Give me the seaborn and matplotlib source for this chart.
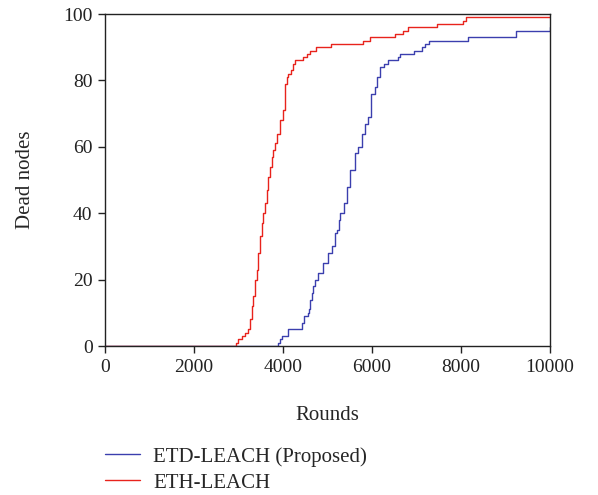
import matplotlib
matplotlib.use("Agg")
import matplotlib.pyplot as plt
import seaborn as sns
import pandas as pd

# Step points: round at which the dead-node count changes, and the new count
etd_rounds = [0, 3880, 3933, 3970, 4120, 4419, 4479, 4569, 4590, 4607, 4650, 4682, 4720,
              4795, 4907, 5019, 5094, 5169, 5206, 5258, 5281, 5371, 5431, 5506, 5618,
              5693, 5768, 5843, 5918, 5970, 6067, 6120, 6180, 6277, 6367, 6592, 6629,
              6951, 7116, 7191, 7281, 8150, 9229, 9990, 10000]
etd_dead = [0, 1, 2, 3, 5, 7, 9, 10, 11, 14, 16, 18, 20,
            22, 25, 28, 30, 34, 35, 38, 40, 43, 48, 53, 58,
            60, 64, 67, 69, 76, 78, 81, 84, 85, 86, 87, 88,
            89, 90, 91, 92, 93, 95, 96, 96]

eth_rounds = [0, 2945, 2990, 3070, 3145, 3220, 3258, 3296, 3333, 3371, 3408, 3446, 3483,
              3521, 3558, 3596, 3635, 3670, 3708, 3745, 3783, 3820, 3872, 3933, 4008,
              4045, 4083, 4120, 4172, 4232, 4270, 4457, 4532, 4607, 4742, 5075, 5805,
              5955, 6517, 6689, 6816, 7468, 8052, 8112, 10000]
eth_dead = [0, 1, 2, 3, 4, 5, 8, 12, 15, 20, 23, 28, 33,
            37, 40, 43, 47, 51, 54, 57, 59, 61, 64, 68, 71,
            79, 81, 82, 83, 85, 86, 87, 88, 89, 90, 91, 92,
            93, 94, 95, 96, 97, 98, 99, 99]

labels = ["ETD-LEACH (Proposed)", "ETH-LEACH"]
colors = ["#3b3fae", "#e8231c"]

x_ticks = [0, 2000, 4000, 6000, 8000, 10000]
y_ticks = [0, 20, 40, 60, 80, 100]

sns.set_style("ticks")
plt.rcParams["font.family"] = ["Liberation Serif", "DejaVu Serif"]
plt.rcParams["axes.edgecolor"] = "#222222"
plt.rcParams["axes.linewidth"] = 1.0

fig = plt.figure(figsize=(5.98, 4.95), dpi=100)
ax = fig.add_axes([0.1756, 0.301, 0.7441, 0.6707])

df_etd = pd.DataFrame({"Rounds": etd_rounds, "Dead nodes": etd_dead})
df_eth = pd.DataFrame({"Rounds": eth_rounds, "Dead nodes": eth_dead})

sns.lineplot(data=df_etd, x="Rounds", y="Dead nodes", ax=ax, color=colors[0],
             linewidth=1.0, drawstyle="steps-post", label=labels[0], legend=False)
sns.lineplot(data=df_eth, x="Rounds", y="Dead nodes", ax=ax, color=colors[1],
             linewidth=1.0, drawstyle="steps-post", label=labels[1], legend=False)

ax.set_xlim(0, 10000)
ax.set_ylim(0, 100)
ax.set_xticks(x_ticks)
ax.set_yticks(y_ticks)
ax.tick_params(axis="both", direction="out", length=5, width=1, labelsize=14,
               colors="#222222", pad=4)
for s in ax.spines.values():
    s.set_visible(True)
ax.set_xlabel("Rounds", fontsize=15, labelpad=22)
ax.set_ylabel("Dead nodes", fontsize=15, labelpad=20)

handles, lbls = ax.get_legend_handles_labels()
fig.legend(handles, lbls, loc="upper left", bbox_to_anchor=(0.1756, 0.097),
           frameon=False, fontsize=15, handlelength=1.7, handletextpad=0.6,
           labelspacing=0.3, borderaxespad=0, borderpad=0)

fig.savefig("out.png", dpi=100)
